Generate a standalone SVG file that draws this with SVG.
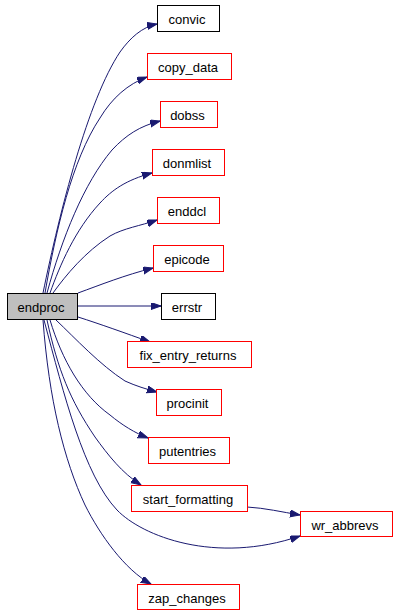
<svg xmlns="http://www.w3.org/2000/svg" width="397" height="613" viewBox="0 0 397 613">
<style>
  .bg { fill: #ffffff; }
  .node rect { fill: #ffffff; stroke: #ff0000; stroke-width: 1; }
  .node.black rect { stroke: #000000; }
  .node.root rect { fill: #bfbfbf; stroke: #000000; }
  .node text { font-family: "Liberation Sans", Arial, sans-serif; font-size: 13px; fill: #000000; text-anchor: middle; }
  .edges path { fill: none; stroke: #191970; stroke-width: 1; marker-end: url(#arrow); }
</style>
<defs>
  <marker id="arrow" markerUnits="userSpaceOnUse" markerWidth="11" markerHeight="8" refX="10" refY="3.5" orient="auto">
    <path d="M0,0 L10,3.5 L0,7 z" fill="#191970" stroke="#191970" stroke-width="1"/>
  </marker>
</defs>
<rect class="bg" x="0" y="0" width="397" height="613"/>
<g id="connectors" class="edges">
  <path d="M43,293 C60,210 88,100 120,52 C130,38 142,27 157,24"/>
  <path d="M45,293 C56,230 72,160 100,118 C112,98 128,84 147,77"/>
  <path d="M47,293 C62,238 84,183 112,150 C126,135 140,126 160,121"/>
  <path d="M50,293 C60,265 75,230 100,203 C112,190 126,180 152,173"/>
  <path d="M53,293 C66,275 85,252 110,236 C124,228 140,226 157,220"/>
  <path d="M78,293 C100,285 125,275 153,268"/>
  <path d="M77,306 L161,306"/>
  <path d="M78,317 C100,324 125,333 150,342"/>
  <path d="M56,320 C75,338 100,365 125,381 C136,386 146,389 157,392"/>
  <path d="M50,320 C62,360 82,395 110,415 C122,425 135,433 148,438"/>
  <path d="M47,320 C58,370 70,400 95,437 C108,455 122,473 141,485"/>
  <path d="M44,320 C64,395 84,475 117,510 C142,536 215,565 300,536"/>
  <path d="M43,320 C49,400 64,460 85,505 C100,535 125,570 151,584"/>
  <path d="M247,507 C265,508 282,512 300,515"/>
</g>
<g id="node-endproc" class="node root"><rect x="7.5" y="293.5" width="70" height="26"/><text x="41" y="312.3">endproc</text></g>
<g id="node-convic" class="node black"><rect x="157.5" y="5.5" width="62" height="26"/><text x="187" y="24.3">convic</text></g>
<g id="node-copy_data" class="node"><rect x="147.5" y="53.5" width="84" height="26"/><text x="188" y="72.3">copy_data</text></g>
<g id="node-dobss" class="node"><rect x="160.5" y="101.5" width="57" height="26"/><text x="187.5" y="120.3">dobss</text></g>
<g id="node-donmlist" class="node"><rect x="152.5" y="149.5" width="72" height="26"/><text x="187" y="168.3">donmlist</text></g>
<g id="node-enddcl" class="node"><rect x="157.5" y="197.5" width="62" height="26"/><text x="187" y="216.3">enddcl</text></g>
<g id="node-epicode" class="node"><rect x="153.5" y="245.5" width="70" height="26"/><text x="187" y="264.3">epicode</text></g>
<g id="node-errstr" class="node black"><rect x="161.5" y="293.5" width="54" height="26"/><text x="187" y="312.3">errstr</text></g>
<g id="node-fix_entry_returns" class="node"><rect x="127.5" y="341.5" width="124" height="26"/><text x="188" y="360.3">fix_entry_returns</text></g>
<g id="node-procinit" class="node"><rect x="156.5" y="389.5" width="65" height="26"/><text x="187.5" y="408.3">procinit</text></g>
<g id="node-putentries" class="node"><rect x="148.5" y="437.5" width="81" height="26"/><text x="187.5" y="456.3">putentries</text></g>
<g id="node-start_formatting" class="node"><rect x="131.5" y="485.5" width="116" height="26"/><text x="188" y="504.3">start_formatting</text></g>
<g id="node-wr_abbrevs" class="node"><rect x="300.5" y="511.5" width="92" height="25"/><text x="345" y="529.5">wr_abbrevs</text></g>
<g id="node-zap_changes" class="node"><rect x="137.5" y="584.5" width="102" height="25"/><text x="187" y="602.8">zap_changes</text></g>
</svg>
